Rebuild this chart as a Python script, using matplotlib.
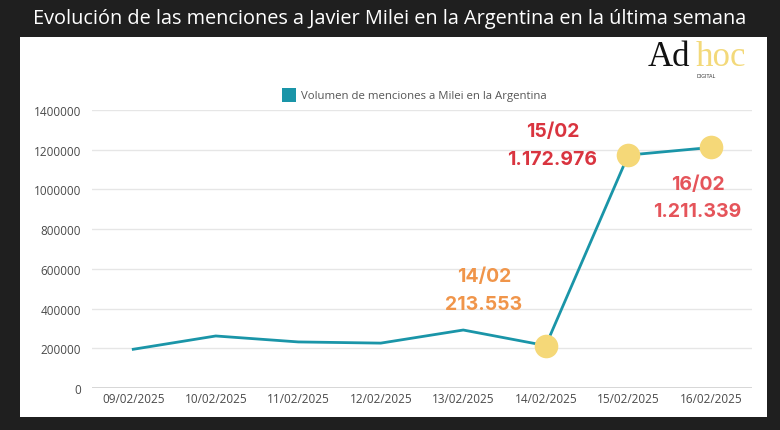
import matplotlib
matplotlib.use("Agg")
import matplotlib.pyplot as plt
from matplotlib.patches import Rectangle

categories = ["09/02/2025", "10/02/2025", "11/02/2025", "12/02/2025",
              "13/02/2025", "14/02/2025", "15/02/2025", "16/02/2025"]
values = [195000, 262000, 232000, 226000, 292000, 213553, 1172976, 1211339]
yticks = [0, 200000, 400000, 600000, 800000, 1000000, 1200000, 1400000]
highlight_idx = [5, 6, 7]
annot_dates = ["14/02", "15/02", "16/02"]
annot_values = ["213.553", "1.172.976", "1.211.339"]
annot_colors = ["#f0954a", "#d9343f", "#e5545a"]
title = "Evolución de las menciones a Javier Milei en la Argentina en la última semana"
legend_label = "Volumen de menciones a Milei en la Argentina"

W, H = 780, 431
fig = plt.figure(figsize=(W / 100, H / 100), dpi=100)
fig.patch.set_facecolor("#1f1f1f")

# white panel
fig.patches.append(Rectangle((20 / W, 1 - 418 / H), (767 - 20) / W, (418 - 38) / H,
                             transform=fig.transFigure, facecolor="white",
                             edgecolor="none", zorder=-5))

fig.text(0.5, 1 - 19 / H, title, color="white", ha="center", va="center",
         fontsize=14.3, family="Open Sans")

# logo
fig.text(648 / W, 1 - 66 / H, "Ad", color="#111111", ha="left", va="baseline",
         fontsize=25, family="Liberation Serif")
fig.text(696 / W, 1 - 66 / H, "hoc", color="#f3d97a", ha="left", va="baseline",
         fontsize=25, family="Liberation Serif")
fig.text(706 / W, 1 - 77 / H, "DIGITAL", color="#333333", ha="center", va="center",
         fontsize=3.5, family="DejaVu Sans")

ax = fig.add_axes([92 / W, 1 - 389 / H, (752 - 92) / W, (389 - 111) / H])
ax.set_zorder(3)
ax.set_facecolor("none")
x = list(range(len(categories)))
ax.plot(x, values, color="#1a95a8", lw=2.0, zorder=3, label=legend_label,
        solid_joinstyle="miter")
hx = [x[i] for i in highlight_idx]
hy = [values[i] for i in highlight_idx]
ax.plot(hx, hy, "o", color="#f5d878", markersize=17, zorder=4, markeredgewidth=0)

ax.set_xlim(-0.5, len(categories) - 0.5)
ax.set_ylim(0, 1400000)
ax.set_yticks(yticks)
ax.set_yticklabels([str(v) for v in yticks], family="Open Sans")
ax.set_xticks(x)
ax.set_xticklabels(categories, family="Open Sans")
ax.tick_params(axis="both", length=0, labelsize=8.5, colors="#4a4a4a")
ax.tick_params(axis="y", pad=8)
ax.tick_params(axis="x", pad=3)
ax.grid(axis="y", color="#e6e6e6", lw=1)
ax.set_axisbelow(True)
for s in ax.spines.values():
    s.set_visible(False)
ax.axhline(0, color="#d0d0d0", lw=1.2, zorder=1)

# legend
fig.patches.append(Rectangle((282 / W, 1 - 103 / H), 14 / W, 14 / H,
                             transform=fig.transFigure, facecolor="#1a95a8",
                             edgecolor="none", zorder=2))
fig.text(301 / W, 1 - 96 / H, legend_label, color="#555555", ha="left",
         va="center", fontsize=8.2, family="Open Sans")

# annotations: (x offset, y of date text, y of value text) in data units
offsets = [(-0.75, 564000, 423000), (-0.92, 1294000, 1153000), (-0.16, 1027000, 891000)]
for k, i in enumerate(highlight_idx):
    dx, yd, yv = offsets[k]
    ax.text(x[i] + dx, yd, annot_dates[k], color=annot_colors[k], ha="center",
            va="center", fontsize=14, fontweight="bold", family="Inter")
    ax.text(x[i] + dx, yv, annot_values[k], color=annot_colors[k], ha="center",
            va="center", fontsize=14, fontweight="bold", family="Inter")

fig.savefig("out.png", dpi=100, facecolor=fig.get_facecolor())
